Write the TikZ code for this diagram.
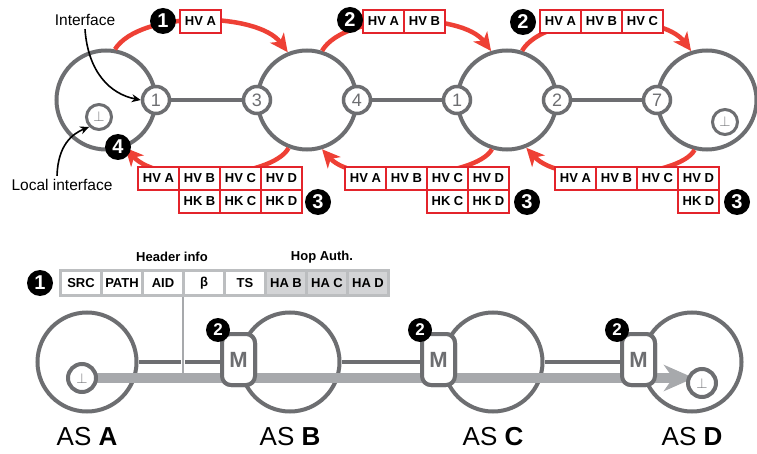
\documentclass[tikz,border=0pt]{standalone}
\usepackage{fontspec}
\setmainfont{Liberation Sans}
\usetikzlibrary{arrows.meta}
\definecolor{asgray}{HTML}{6D6E71}
\definecolor{redl}{HTML}{EE4035}
\definecolor{boxred}{HTML}{E3242B}
\definecolor{bargray}{HTML}{A7A9AC}
\definecolor{hdrgray}{HTML}{BCBEC0}
\definecolor{hafill}{HTML}{D3D4D6}
\begin{document}
\begin{tikzpicture}[x=1pt,y=-1pt,
  asc/.style={circle,draw=asgray,line width=4pt,minimum size=99pt,inner sep=0pt},
  iface/.style={circle,draw=asgray,line width=3.5pt,fill=white,minimum size=27pt,inner sep=0pt,text=asgray,font=\fontsize{18}{18}\selectfont},
  loc/.style={circle,draw=asgray,line width=3pt,fill=white,minimum size=25pt,inner sep=0pt,text=asgray,font=\fontsize{15}{15}\selectfont},
  hv/.style={draw=boxred,line width=1.8pt,fill=white,minimum width=41pt,minimum height=23pt,inner sep=0pt,font=\bfseries\fontsize{13}{13}\selectfont},
  hdr/.style={draw=hdrgray,line width=2.5pt,fill=white,minimum width=41pt,minimum height=25pt,inner sep=0pt,font=\bfseries\fontsize{13}{13}\selectfont},
  hdra/.style={hdr,fill=hafill},
  blk/.style={circle,fill=black,minimum size=26pt,inner sep=0pt,text=white,font=\bfseries\fontsize{20}{20}\selectfont},
  blks/.style={blk,minimum size=24pt,font=\bfseries\fontsize{17}{17}\selectfont},
  redarrow/.style={draw=redl,line width=4.5pt,-{Stealth[length=18pt,width=17pt,inset=5pt]}},
  link/.style={draw=asgray,line width=4pt},
  mbox/.style={draw=asgray,line width=4pt,fill=white,rounded corners=9pt,minimum width=33pt,minimum height=51pt,inner sep=0pt,text=asgray,font=\bfseries\fontsize{22}{22}\selectfont},
  note/.style={font=\fontsize{15.5}{15.5}\selectfont},
  aslabel/.style={font=\fontsize{26}{26}\selectfont}
]
\useasboundingbox (0,0) rectangle (757,454);

% ---------- top part ----------
\node[asc] (c1) at (106,100) {};
\node[asc] (c2) at (307,100) {};
\node[asc] (c3) at (507,100) {};
\node[asc] (c4) at (707,100) {};

% red arcs
\draw[redarrow] (c1.80) .. controls (140,10) and (258,12) .. (c2.112);
\draw[redarrow] (c2.73) .. controls (345,12) and (462,12) .. (c3.108);
\draw[redarrow] (c3.73) .. controls (545,12) and (662,12) .. (c4.108);
\draw[redarrow] (c2.249) .. controls (272,178) and (160,186) .. (c1.292);
\draw[redarrow] (c3.253) .. controls (476,178) and (355,186) .. (c2.287);
\draw[redarrow] (c4.256) .. controls (679,178) and (561,186) .. (c3.292);

% interfaces
\node[iface] (i1) at (156,100) {1};
\node[iface] (i3) at (257,100) {3};
\node[iface] (i4) at (357,100) {4};
\node[iface] (i1b) at (457,100) {1};
\node[iface] (i2) at (557,100) {2};
\node[iface] (i7) at (657,100) {7};
\draw[link] (i1) -- (i3);
\draw[link] (i4) -- (i1b);
\draw[link] (i2) -- (i7);
\node[loc] (l1) at (99,117) {$\perp$};
\node[loc] (l4) at (725,122) {$\perp$};

% top boxes
\node[hv] (t1a) at (200.5,21.5) {HV A};
\node[hv] (t2a) at (383.5,21.5) {HV A};
\node[hv] (t2b) at (424.5,21.5) {HV B};
\node[hv] (t3a) at (560.5,21.5) {HV A};
\node[hv] (t3b) at (601.5,21.5) {HV B};
\node[hv] (t3c) at (642.5,21.5) {HV C};

% bottom boxes group 1
\node[hv] (b1a) at (158.5,178.5) {HV A};
\node[hv] (b1b) at (199.5,178.5) {HV B};
\node[hv] (b1c) at (240.5,178.5) {HV C};
\node[hv] (b1d) at (281.5,178.5) {HV D};
\node[hv] (k1b) at (199.5,201.5) {HK B};
\node[hv] (k1c) at (240.5,201.5) {HK C};
\node[hv] (k1d) at (281.5,201.5) {HK D};
% group 2
\node[hv] (b2a) at (365.5,178.5) {HV A};
\node[hv] (b2b) at (406.5,178.5) {HV B};
\node[hv] (b2c) at (447.5,178.5) {HV C};
\node[hv] (b2d) at (488.5,178.5) {HV D};
\node[hv] (k2c) at (447.5,201.5) {HK C};
\node[hv] (k2d) at (488.5,201.5) {HK D};
% group 3
\node[hv] (b3a) at (575.5,178.5) {HV A};
\node[hv] (b3b) at (616.5,178.5) {HV B};
\node[hv] (b3c) at (657.5,178.5) {HV C};
\node[hv] (b3d) at (698.5,178.5) {HV D};
\node[hv] (k3d) at (698.5,201.5) {HK D};

% black numbers
\node[blk] (n1) at (163,21) {1};
\node[blk] (n2) at (350,20) {2};
\node[blk] (n2b) at (523,22) {2};
\node[blk] (n4) at (118,147) {4};
\node[blk] (n3) at (318,202) {3};
\node[blk] (n3b) at (527,202) {3};
\node[blk] (n3c) at (737,202) {3};

% annotations
\node[note] (tif) at (85,20) {Interface};
\node[note] (tli) at (62,185) {Local interface};
\draw[black,line width=1.6pt,-{Stealth[length=9pt,width=8pt]}] (tif.south) .. controls (88,72) and (110,94) .. (i1.west);
\draw[black,line width=1.6pt,-{Stealth[length=9pt,width=8pt]}] (tli.north -| 57,0) .. controls (58,145) and (72,134) .. (l1.225);

% ---------- bottom part ----------
\node[asc] (A) at (87,362) {};
\node[asc] (B) at (290,362) {};
\node[asc] (C) at (493,362) {};
\node[asc] (D) at (692,362) {};

\node[mbox] (mB) at (238.5,359.5) {M};
\node[mbox] (mC) at (438.5,359.5) {M};
\node[mbox] (mD) at (638.5,359.5) {M};

\draw[link] (A.east) -- (mB.west |- A.east);
\draw[link] (B.east) -- (mC.west |- B.east);
\draw[link] (C.east) -- (mD.west |- C.east);

% header
\node[font=\bfseries\fontsize{13}{13}\selectfont] (hinfo) at (172,257) {Header info};
\node[font=\bfseries\fontsize{13}{13}\selectfont] (hauth) at (322,257) {Hop Auth.};
\node[hdr] (src) at (81,283) {SRC};
\node[hdr] (path) at (122,283) {PATH};
\node[hdr] (aid) at (163,283) {AID};
\node[hdr] (beta) at (204,283) {β};
\node[hdr] (ts) at (245,283) {TS};
\node[hdra] (hab) at (286,283) {HA B};
\node[hdra] (hac) at (327,283) {HA C};
\node[hdra] (had) at (368,283) {HA D};
\node[blk] (h1) at (40,283) {1};

\coordinate (vbot) at (183,373);
\draw[white,line width=4.5pt] (183,350) -- (vbot);
\draw[bargray,line width=2pt] (beta.south -| vbot) -- (vbot);

% data path bar
\coordinate (barend) at (694,378);
\draw[bargray,line width=10pt,-{Stealth[length=30pt,width=26pt,inset=9pt]}] (82,378) -- (barend);
\node[mbox] at (mB) {M};
\node[mbox] at (mC) {M};
\node[mbox] at (mD) {M};
\node[loc,line width=4pt,minimum size=28pt] (la) at (82,378) {$\perp$};
\node[loc,line width=4pt,minimum size=28pt] (ld) at (702,383) {$\perp$};

\node[blks] (m2b) at (218,330) {2};
\node[blks] (m2c) at (420,330) {2};
\node[blks] (m2d) at (617,330) {2};

\node[aslabel] (asa) at (87,437) {AS \textbf{A}};
\node[aslabel] (asb) at (290,437) {AS \textbf{B}};
\node[aslabel] (asc) at (493,437) {AS \textbf{C}};
\node[aslabel] (asd) at (692,437) {AS \textbf{D}};
\end{tikzpicture}
\end{document}
